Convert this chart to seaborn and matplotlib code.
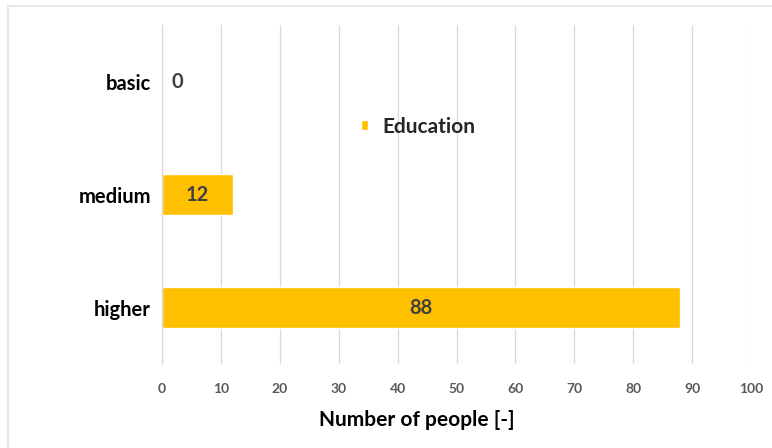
import matplotlib
matplotlib.use("Agg")
import matplotlib.pyplot as plt
import seaborn as sns
import pandas as pd
from matplotlib.patches import Rectangle

# data
categories = ["basic", "medium", "higher"]
people = [0, 12, 88]
series_name = "Education"
x_ticks = [0, 10, 20, 30, 40, 50, 60, 70, 80, 90, 100]

df = pd.DataFrame({"level": categories, "people": people})

sns.set_theme(style="white")
plt.rcParams["font.family"] = ["Lato", "DejaVu Sans"]

grid_c = "#d9d9d9"
bar_c = "#ffc000"

fig = plt.figure(figsize=(7.72, 4.48), dpi=100)
ax = fig.add_axes([162 / 772, 84 / 448, 589 / 772, 339 / 448])

# light outer frame like the chart area border
fig.patches.append(Rectangle((8 / 772, -0.05), 1.1, 1.05 - 6 / 448, transform=fig.transFigure,
                             fill=False, edgecolor="#e3e3e3", lw=1.2))

sns.barplot(data=df, x="people", y="level", orient="h", color=bar_c, width=0.37,
            label=series_name, ax=ax, saturation=1)

ax.set_xlim(0, 100)
ax.set_ylim(2.5, -0.5)
ax.set_xticks(x_ticks)
ax.set_xticklabels([str(t) for t in x_ticks], color="#595959", fontsize=10, fontweight="bold")
ax.tick_params(axis="x", length=0, pad=14)
ax.grid(axis="x", color=grid_c, lw=0.9)
ax.set_axisbelow(True)

# category separators on the left axis
ax.set_yticks([-0.5, 0.5, 1.5, 2.5], minor=True)
ax.tick_params(axis="y", which="minor", length=7, color=grid_c, width=0.9)
ax.tick_params(axis="y", which="major", length=0, pad=8)
for lab in ax.get_yticklabels():
    lab.set_fontsize(14.5)
    lab.set_fontweight("bold")
    lab.set_color("black")

for s in ["top", "right", "bottom"]:
    ax.spines[s].set_visible(False)
ax.spines["left"].set_color(grid_c)
ax.spines["left"].set_linewidth(0.9)

ax.set_ylabel("")
ax.set_xlabel("Number of people [-]", fontsize=15, fontweight="bold", color="black", labelpad=5)
ax.xaxis.set_label_coords(0.433, -0.135)

# value labels
for p, v in zip(ax.patches, people):
    cy = p.get_y() + p.get_height() / 2
    if p.get_width() > 0:
        ax.text(p.get_x() + p.get_width() / 2, cy, str(v), ha="center", va="center",
                fontsize=14.5, fontweight="bold", color="#404040")
    else:
        ax.annotate(str(v), (p.get_x(), cy), xytext=(15, 0), textcoords="offset pixels",
                    ha="center", va="center", fontsize=14.5, fontweight="bold", color="#404040")

leg = ax.legend(loc="center", bbox_to_anchor=(0.435, 0.70), frameon=False,
                handlelength=0.35, handleheight=0.35, handletextpad=0.7,
                prop={"size": 15, "weight": "bold"})

fig.savefig("out.png", dpi=100)
